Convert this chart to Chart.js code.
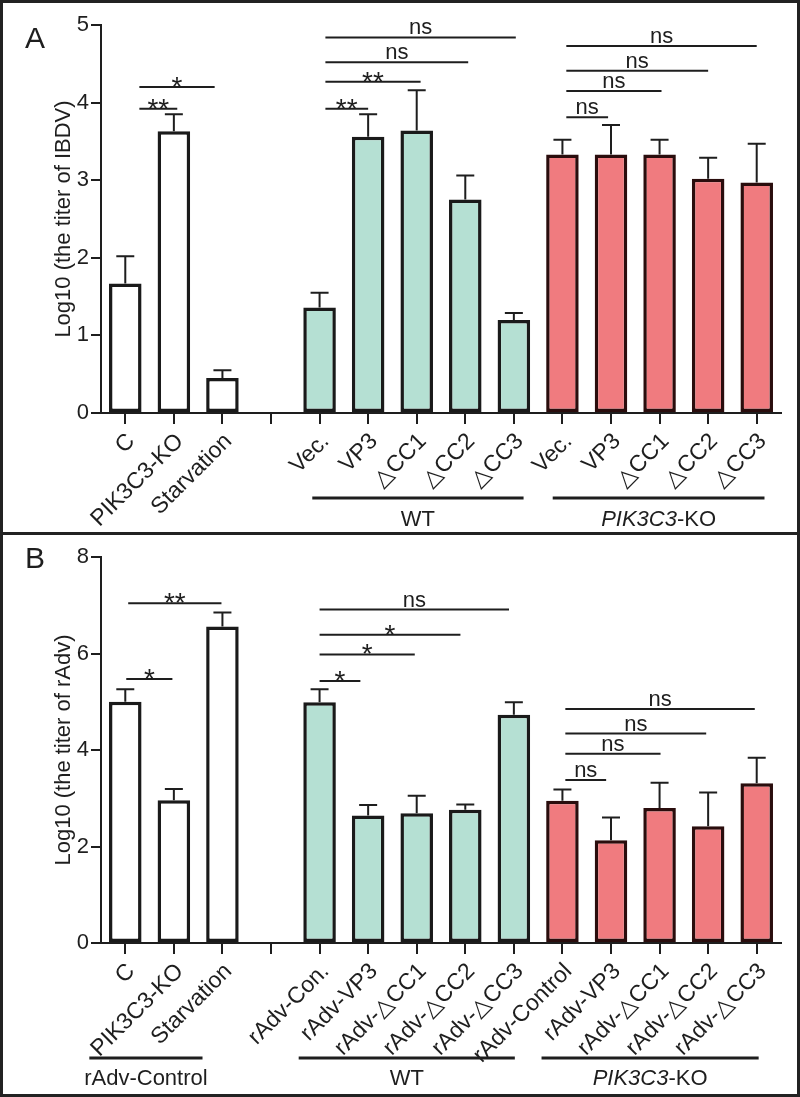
<!DOCTYPE html>
<html>
<head>
<meta charset="utf-8">
<script src="https://cdn.jsdelivr.net/npm/chart.js@4.4.1/dist/chart.umd.min.js"></script>
<style>
html, body { margin: 0; padding: 0; background: #fff; }
#fig { width: 800px; height: 1097px; border: 3px solid #222; box-sizing: border-box; }
#pa { width: 794px; height: 529px; }
#pb { width: 794px; height: 559px; border-top: 3px solid #222; }
canvas { display: block; }
</style>
</head>
<body>
<div id="fig">
  <div id="pa"><canvas id="chartA" width="794" height="529"></canvas></div>
  <div id="pb"><canvas id="chartB" width="794" height="559"></canvas></div>
</div>
<script>
// ---- panel A : IBDV ----
var labelsA = ['C', 'PIK3C3-KO', 'Starvation', '', 'Vec.', 'VP3', '\u25B3CC1', '\u25B3CC2', '\u25B3CC3',
               'Vec.', 'VP3', '\u25B3CC1', '\u25B3CC2', '\u25B3CC3'];
var meanA = [1.67, 3.63, 0.45, null, 1.36, 3.56, 3.64, 2.75, 1.20, 3.33, 3.33, 3.33, 3.02, 2.97];
var sdA   = [0.35, 0.22, 0.10, null, 0.19, 0.29, 0.52, 0.31, 0.09, 0.19, 0.38, 0.19, 0.27, 0.50];
var ticksA = [0, 1, 2, 3, 4, 5];

var sigFromA = [0.29, 0.29, 4.12, 4.12, 4.12, 4.12, 9.08, 9.08, 9.08, 9.08];
var sigToA   = [1.07, 1.84, 5.00, 6.08, 7.06, 8.04, 9.94, 11.04, 12.00, 13.00];
var sigYA    = [3.92, 4.20, 3.92, 4.27, 4.52, 4.84, 3.81, 4.15, 4.41, 4.73];
var sigTextA = ['**', '*', '**', '**', 'ns', 'ns', 'ns', 'ns', 'ns', 'ns'];

var groupTextA = ['WT', 'PIK3C3-KO'];
var groupFromA = [3.85, 8.80];
var groupToA   = [8.20, 13.16];

// ---- panel B : rAdv ----
var labelsB = ['C', 'PIK3C3-KO', 'Starvation', '', 'rAdv-Con.', 'rAdv-VP3', 'rAdv-\u25B3CC1', 'rAdv-\u25B3CC2', 'rAdv-\u25B3CC3',
               'rAdv-Control', 'rAdv-VP3', 'rAdv-\u25B3CC1', 'rAdv-\u25B3CC2', 'rAdv-\u25B3CC3'];
var meanB = [5.00, 2.96, 6.56, null, 4.99, 2.64, 2.69, 2.76, 4.73, 2.95, 2.13, 2.80, 2.42, 3.31];
var sdB   = [0.26, 0.23, 0.29, null, 0.27, 0.22, 0.36, 0.11, 0.26, 0.23, 0.47, 0.52, 0.70, 0.53];
var ticksB = [0, 2, 4, 6, 8];

var sigFromB = [0.02, 0.06, 4.00, 4.00, 4.00, 4.00, 9.06, 9.06, 9.06, 9.06];
var sigToB   = [0.97, 1.98, 4.84, 5.96, 6.90, 7.90, 9.90, 11.02, 11.96, 12.96];
var sigYB    = [5.47, 7.04, 5.43, 5.98, 6.39, 6.91, 3.38, 3.92, 4.34, 4.85];
var sigTextB = ['*', '**', '*', '*', '*', 'ns', 'ns', 'ns', 'ns', 'ns'];

var groupTextB = ['rAdv-Control', 'WT', 'PIK3C3-KO'];
var groupFromB = [-0.74, 3.57, 8.57];
var groupToB   = [1.59, 8.02, 13.04];

var FONT = "'Liberation Sans', Arial, sans-serif";
var INK = '#1e1e1e';
var fillWhite = '#ffffff', fillTeal = '#b5e0d3', fillRed = '#f07b7f';
var lineDark = '#1a1a1a', lineRed = '#2a0d0d';

function barColors(n) {
    var fill = [], edge = [];
    for (var i = 0; i < n; i++) {
        if (i < 4) { fill.push(fillWhite); edge.push(lineDark); }
        else if (i < 9) { fill.push(fillTeal); edge.push(lineDark); }
        else { fill.push(fillRed); edge.push(lineRed); }
    }
    return { fill: fill, edge: edge };
}

// write a label, with the gene name in italics
function drawGroupText(ctx, text, cx, y) {
    var parts = text.indexOf('PIK3C3') === 0 ? [['italic ', 'PIK3C3'], ['', text.slice(6)]] : [['', text]];
    var w = 0;
    parts.forEach(function (p) { ctx.font = p[0] + '22px ' + FONT; w += ctx.measureText(p[1]).width; });
    var x = cx - w / 2;
    ctx.textAlign = 'left';
    parts.forEach(function (p) {
        ctx.font = p[0] + '22px ' + FONT;
        ctx.fillText(p[1], x, y);
        x += ctx.measureText(p[1]).width;
    });
}

function decor(letter, letterY, mean, sd, sigFrom, sigTo, sigY, sigText, gText, gFrom, gTo, gLineDy, gTextDy) {
    return {
        id: 'decor' + letter,
        afterDatasetsDraw: function (chart) {
            var ctx = chart.ctx, x = chart.scales.x, y = chart.scales.y;
            var meta = chart.getDatasetMeta(0);
            ctx.save();
            // error bars (upper whisker only)
            ctx.strokeStyle = INK;
            ctx.lineWidth = 2;
            meta.data.forEach(function (bar, i) {
                if (mean[i] === null) return;
                var top = y.getPixelForValue(mean[i] + sd[i]);
                ctx.beginPath();
                ctx.moveTo(bar.x, bar.y);
                ctx.lineTo(bar.x, top);
                ctx.moveTo(bar.x - 9, top);
                ctx.lineTo(bar.x + 9, top);
                ctx.stroke();
            });
            // significance lines
            ctx.fillStyle = INK;
            ctx.textAlign = 'center';
            ctx.textBaseline = 'alphabetic';
            for (var i = 0; i < sigText.length; i++) {
                var x0 = x.getPixelForValue(sigFrom[i]), x1 = x.getPixelForValue(sigTo[i]);
                var py = y.getPixelForValue(sigY[i]);
                ctx.beginPath();
                ctx.moveTo(x0, py);
                ctx.lineTo(x1, py);
                ctx.stroke();
                var star = sigText[i] !== 'ns';
                ctx.font = (star ? '28px ' : '22px ') + FONT;
                ctx.fillText(sigText[i], (x0 + x1) / 2, py + (star ? 9 : -3));
            }
            // group brackets under the axis
            var base = y.getPixelForValue(0);
            for (var j = 0; j < gText.length; j++) {
                var g0 = x.getPixelForValue(gFrom[j]), g1 = x.getPixelForValue(gTo[j]);
                ctx.lineWidth = 3;
                ctx.beginPath();
                ctx.moveTo(g0, base + gLineDy);
                ctx.lineTo(g1, base + gLineDy);
                ctx.stroke();
                drawGroupText(ctx, gText[j], (g0 + g1) / 2, base + gTextDy);
            }
            // panel letter
            ctx.font = '30px ' + FONT;
            ctx.textAlign = 'left';
            ctx.fillText(letter, 22, letterY);
            ctx.restore();
        }
    };
}

function makeChart(id, labels, mean, ymax, yStep, yTicks, title, axisH, plugin) {
    var c = barColors(labels.length);
    return new Chart(document.getElementById(id), {
        type: 'bar',
        data: {
            labels: labels,
            datasets: [{
                data: mean,
                backgroundColor: c.fill,
                borderColor: c.edge,
                borderWidth: 3.5,
                borderSkipped: false,
                barPercentage: 0.67,
                categoryPercentage: 1
            }]
        },
        options: {
            responsive: false,
            animation: false,
            devicePixelRatio: 1,
            layout: { padding: { left: 44, right: 16, top: 22, bottom: 0 } },
            plugins: { legend: { display: false }, tooltip: { enabled: false } },
            scales: {
                x: {
                    grid: { display: true, drawOnChartArea: false, offset: false, tickLength: 11, color: INK, lineWidth: 2 },
                    border: { display: true, color: INK, width: 2 },
                    ticks: { autoSkip: false, minRotation: 45, maxRotation: 45, color: INK, padding: 4, labelOffset: 6,
                             font: { size: 23, family: FONT } },
                    afterFit: function (s) { s.height = axisH; }
                },
                y: {
                    min: 0, max: ymax,
                    grid: { display: true, drawOnChartArea: false, tickLength: 10, color: INK, lineWidth: 2 },
                    border: { display: true, color: INK, width: 2 },
                    ticks: { stepSize: yStep, color: INK, padding: 2, font: { size: 22, family: FONT },
                             callback: function (v) { return yTicks.indexOf(v) >= 0 ? v : ''; } },
                    title: { display: true, text: title, color: INK, font: { size: 22, family: FONT } },
                    afterFit: function (s) { s.width = 54; }
                }
            }
        },
        plugins: [plugin]
    });
}

makeChart('chartA', labelsA, meanA, 5, 1, ticksA, 'Log10 (the titer of IBDV)', 119,
    decor('A', 45, meanA, sdA, sigFromA, sigToA, sigYA, sigTextA, groupTextA, groupFromA, groupToA, 85, 113));
makeChart('chartB', labelsB, meanB, 8, 2, ticksB, 'Log10 (the titer of rAdv)', 151,
    decor('B', 33, meanB, sdB, sigFromB, sigToB, sigYB, sigTextB, groupTextB, groupFromB, groupToB, 115, 142));
</script>
</body>
</html>
